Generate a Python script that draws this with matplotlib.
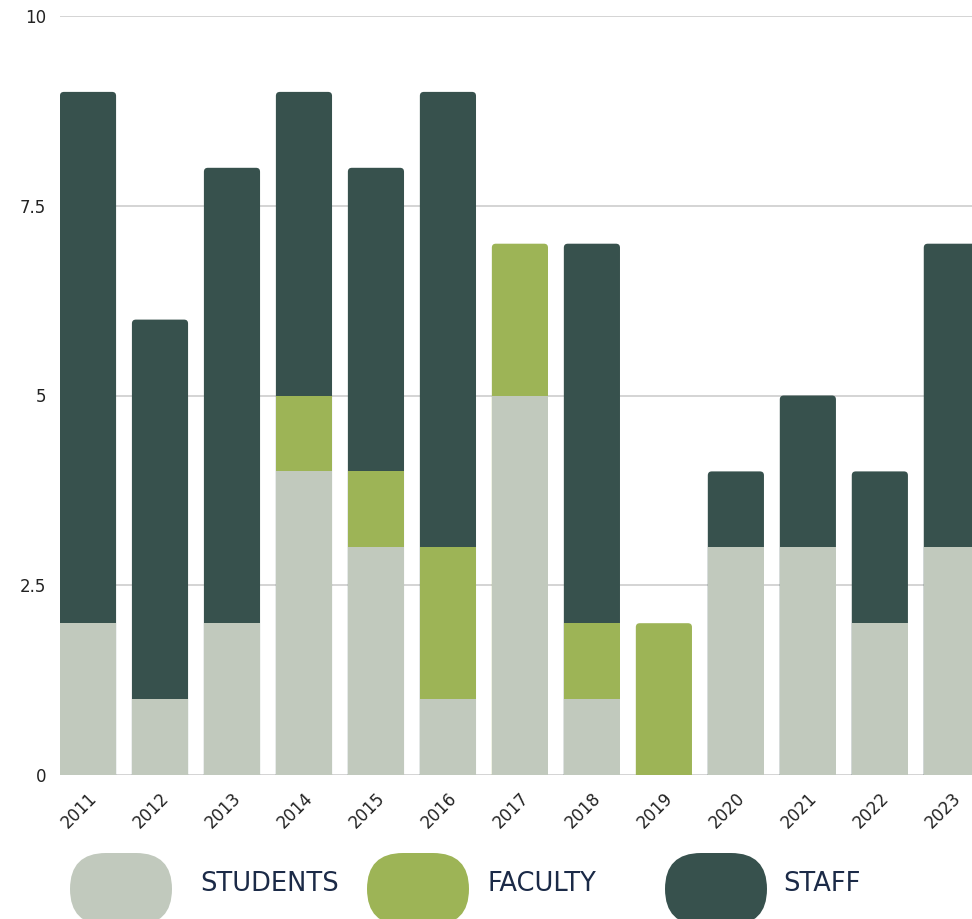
import matplotlib
matplotlib.use("Agg")
import matplotlib.pyplot as plt
from matplotlib.patches import FancyBboxPatch
import numpy as np

years = ["2011", "2012", "2013", "2014", "2015", "2016", "2017",
         "2018", "2019", "2020", "2021", "2022", "2023"]
students = [2, 1, 2, 4, 3, 1, 5, 1, 0, 3, 3, 2, 3]
faculty = [0, 0, 0, 1, 1, 2, 2, 1, 2, 0, 0, 0, 0]
staff = [7, 5, 6, 4, 4, 6, 0, 5, 0, 1, 2, 2, 4]
series_names = ["STUDENTS", "FACULTY", "STAFF"]
series_colors = ["#c1c9bd", "#9db456", "#37514d"]
y_ticks = [0, 2.5, 5, 7.5, 10]
y_labels = ["0", "2.5", "5", "7.5", "10"]

plt.rcParams["font.family"] = ["DejaVu Sans"]

fig = plt.figure(figsize=(9.72, 9.19), dpi=100)
ax = fig.add_axes([60 / 972, 144 / 919, 912 / 972, 759 / 919])

x = np.arange(len(years))
width = 0.78
data = np.array([students, faculty, staff], dtype=float)
totals = data.sum(axis=0)
# index of the topmost non-empty segment in each stack
top_idx = [max(i for i in range(3) if data[i, j] > 0) for j in range(len(years))]

# topmost segment drawn as a rounded box from below zero up to the total
for j in range(len(years)):
    box = FancyBboxPatch((x[j] - width / 2, -0.5), width, totals[j] + 0.5,
                         boxstyle="round,pad=0,rounding_size=0.055",
                         mutation_aspect=72 / 75.9,
                         facecolor=series_colors[top_idx[j]], edgecolor="none",
                         zorder=2)
    ax.add_patch(box)

# the lower segments as plain stacked bars
bottom = np.zeros(len(years))
for i in range(3):
    h = np.array([data[i, j] if i != top_idx[j] else 0 for j in range(len(years))])
    ax.bar(x, h, width, bottom=bottom, color=series_colors[i], zorder=3,
           linewidth=0)
    bottom += data[i]

ax.set_xlim(-0.389, 12.28)
ax.set_ylim(0, 10)
ax.set_yticks(y_ticks)
ax.set_yticklabels(y_labels)
ax.set_xticks(x)
ax.set_xticklabels(years, rotation=45, ha="right", rotation_mode="anchor")
ax.tick_params(axis="both", length=0, labelsize=12, colors="#222222")
ax.tick_params(axis="y", pad=10)
ax.tick_params(axis="x", pad=10)
for lbl in ax.get_xticklabels():
    lbl.set_fontsize(12)
ax.grid(axis="y", color="#d4d4d4", linewidth=1.4, zorder=0)
ax.set_axisbelow(True)
for s in ax.spines.values():
    s.set_visible(False)

# legend with pill swatches
lax = fig.add_axes([0, 0, 1, 1], zorder=-1)
lax.set_xlim(0, 972)
lax.set_ylim(919, 0)
lax.axis("off")
pill_x = [70, 367, 665]
text_x = [200, 487, 783]
for i in range(3):
    pill = FancyBboxPatch((pill_x[i], 853), 102, 72,
                          boxstyle="round,pad=0,rounding_size=36",
                          facecolor=series_colors[i], edgecolor="none")
    lax.add_patch(pill)
    lax.text(text_x[i], 884, series_names[i], fontsize=18.5, color="#1b2a47",
             va="center", ha="left")

fig.savefig("out.png", dpi=100)
